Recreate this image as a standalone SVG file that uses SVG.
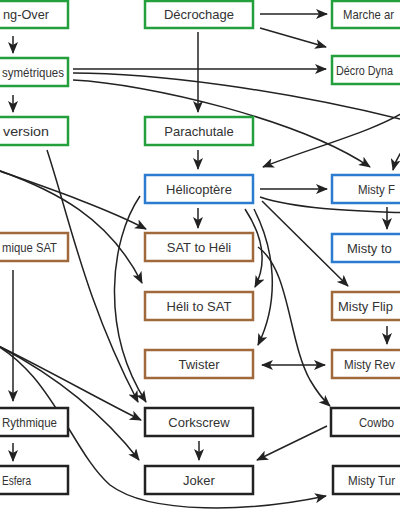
<svg xmlns="http://www.w3.org/2000/svg" width="400" height="516" viewBox="0 0 400 516">
<style>
.box{fill:#fff;stroke-width:2.5}
.g{stroke:#23a03c}.b{stroke:#2b7bd0}.br{stroke:#a0693b}.k{stroke:#222}
text{font-family:"Liberation Sans",Arial,sans-serif;font-size:13px;fill:#333}
.c{text-anchor:middle}.e{text-anchor:end}
#edges path{fill:none;stroke:#222;stroke-width:1.5;marker-end:url(#ah)}
</style>
<defs>
<marker id="ah" viewBox="0 0 12 10" markerUnits="userSpaceOnUse" markerWidth="12" markerHeight="10" refX="11" refY="5" orient="auto-start-reverse">
<path d="M0,0 L12,5 L0,10 L3,5 z" fill="#222"/>
</marker>
</defs>
<rect width="400" height="516" fill="#fff"/>
<g id="edges">
<path d="M13,36 L13,53"/>
<path d="M13,95 L13,112"/>
<path d="M260,14 L327,14"/>
<path d="M260,28 L326,47"/>
<path d="M73,69 L326,69"/>
<path d="M73,73 C150,73 280,88 420,124" style="marker-end:none"/>
<path d="M73,80 C150,84 300,120 370,167"/>
<path d="M198,32 L198,112"/>
<path d="M198,150 L198,169"/>
<path d="M410,108 C380,130 310,148 263,167"/>
<path d="M412,140 C402,150 396,158 393,170"/>
<path d="M198,208 L198,228"/>
<path d="M260,189 L327,189"/>
<path d="M260,197 C300,210 360,211 410,213" style="marker-end:none"/>
<path d="M387,207 L387,229"/>
<path d="M262,201 L348,286"/>
<path d="M245,209 C262,235 268,262 255,287"/>
<path d="M254,209 C275,250 280,300 258,345"/>
<path d="M258,247 C290,270 288,340 310,380 Q320,397 330,406"/>
<path d="M262,365 L325,365" style="marker-start:url(#ah)"/>
<path d="M387,326 L387,344"/>
<path d="M327,426 L257,460"/>
<path d="M199,441 L199,460"/>
<path d="M47,150 C70,220 85,300 138,402"/>
<path d="M140,196 C110,240 100,330 146,402"/>
<path d="M-20,164 C30,182 100,205 146,229"/>
<path d="M-20,164 C60,190 110,220 142,283"/>
<path d="M-20,337 C30,360 100,400 141,420"/>
<path d="M-20,337 C50,370 100,410 139,460"/>
<path d="M-20,337 C50,365 70,450 110,485 C150,515 250,512 326,496"/>
<path d="M13,270 L13,401"/>
<path d="M13,443 L13,461"/>
</g>
<g id="n-wingover"><rect class="box g" x="-40" y="1" width="108" height="27"/><text class="e" x="49" y="19" textLength="46" lengthAdjust="spacingAndGlyphs">ng-Over</text></g>
<g id="n-asym"><rect class="box g" x="-40" y="58" width="108" height="28"/><text class="e" x="64" y="77" textLength="62" lengthAdjust="spacingAndGlyphs">symétriques</text></g>
<g id="n-inversion"><rect class="box g" x="-40" y="117" width="108" height="28"/><text class="e" x="49" y="136" textLength="46" lengthAdjust="spacingAndGlyphs">version</text></g>
<g id="n-rythsat"><rect class="box br" x="-40" y="233" width="108" height="28"/><text class="e" x="57" y="252" textLength="55" lengthAdjust="spacingAndGlyphs">mique SAT</text></g>
<g id="n-rythmique"><rect class="box k" x="-40" y="408" width="108" height="28"/><text class="e" x="57" y="427" textLength="55" lengthAdjust="spacingAndGlyphs">Rythmique</text></g>
<g id="n-esfera"><rect class="box k" x="-40" y="466" width="108" height="28"/><text class="e" x="31" y="485" textLength="29" lengthAdjust="spacingAndGlyphs">Esfera</text></g>
<g id="n-decrochage"><rect class="box g" x="145" y="1" width="108" height="27"/><text class="c" x="199" y="19">Décrochage</text></g>
<g id="n-parachutale"><rect class="box g" x="145" y="117" width="108" height="28"/><text class="c" x="199" y="136">Parachutale</text></g>
<g id="n-helico"><rect class="box b" x="145" y="175" width="108" height="28"/><text class="c" x="199" y="194">Hélicoptère</text></g>
<g id="n-sat2heli"><rect class="box br" x="145" y="233" width="108" height="28"/><text class="c" x="199" y="252">SAT to Héli</text></g>
<g id="n-heli2sat"><rect class="box br" x="145" y="292" width="108" height="28"/><text class="c" x="199" y="311">Héli to SAT</text></g>
<g id="n-twister"><rect class="box br" x="145" y="350" width="108" height="28"/><text class="c" x="199" y="369">Twister</text></g>
<g id="n-corkscrew"><rect class="box k" x="145" y="408" width="108" height="28"/><text class="c" x="199" y="427">Corkscrew</text></g>
<g id="n-joker"><rect class="box k" x="145" y="466" width="108" height="28"/><text class="c" x="199" y="485">Joker</text></g>
<g id="n-marche"><rect class="box g" x="332" y="1" width="108" height="27"/><text x="343" y="19" textLength="51" lengthAdjust="spacingAndGlyphs">Marche ar</text></g>
<g id="n-decrodyn"><rect class="box g" x="332" y="56" width="108" height="28"/><text x="336" y="75" style="font-size:12px" textLength="57" lengthAdjust="spacingAndGlyphs">Décro Dyna</text></g>
<g id="n-mistyflip"><rect class="box b" x="332" y="175" width="108" height="28"/><text x="358" y="194" textLength="37" lengthAdjust="spacingAndGlyphs">Misty F</text></g>
<g id="n-mistyto"><rect class="box b" x="332" y="234" width="108" height="28"/><text x="347" y="253">Misty to</text></g>
<g id="n-mistyflipsat"><rect class="box br" x="332" y="292" width="108" height="28"/><text x="338" y="311">Misty Flip</text></g>
<g id="n-mistyrev"><rect class="box br" x="332" y="350" width="108" height="28"/><text x="344" y="369" textLength="51" lengthAdjust="spacingAndGlyphs">Misty Rev</text></g>
<g id="n-cowboy"><rect class="box k" x="331" y="408" width="108" height="28"/><text x="359" y="427" textLength="35" lengthAdjust="spacingAndGlyphs">Cowbo</text></g>
<g id="n-mistyturn"><rect class="box k" x="333" y="466" width="108" height="28"/><text x="348" y="485" textLength="47" lengthAdjust="spacingAndGlyphs">Misty Tur</text></g>
</svg>
